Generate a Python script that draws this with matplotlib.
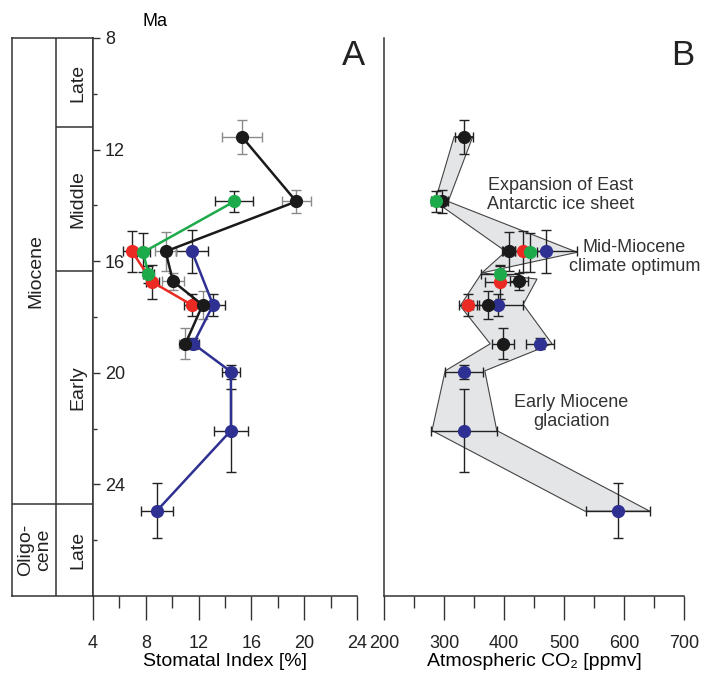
import matplotlib
matplotlib.use("Agg")
import matplotlib.pyplot as plt
import numpy as np

plt.rcParams['font.family'] = ['Liberation Sans', 'DejaVu Sans']

# sample ages (Ma), shared by both panels
blk_age = [11.55, 13.86, 15.65, 16.72, 17.57, 18.96]
grn_age = [13.86, 15.68, 16.47]
red_age = [15.65, 16.75, 17.57]
blu_age = [15.65, 17.57, 18.96, 19.96, 22.07, 24.94]

blk_age_err = [0.6, 0.4, 0.7, 0.3, 0.5, 0.55]
grn_age_err = [0.38, 0.7, 0.3]
red_age_err = [0.72, 0.6, 0.4]
blu_age_err = [0.76, 0.4, 0.2, 0.25, 1.5, 0.98]

# panel A: stomatal index [%]
blk_si = [15.3, 19.4, 9.5, 10.06, 12.3, 11.0]
grn_si = [14.7, 7.8, 8.2]
red_si = [6.95, 8.5, 11.5]
blu_si = [11.5, 13.1, 11.6, 14.45, 14.45, 8.85]

blk_si_err = [1.5, 1.1, 0.8, 0.8, 0.8, 0.5]
grn_si_err = [1.45, 0.5, 0.4]
red_si_err = [0.7, 0.5, 0.6]
blu_si_err = [1.2, 0.9, 0.4, 0.67, 1.26, 1.2]

# panel B: atmospheric CO2 [ppmv]
blk_co2 = [333, 297, 408, 425, 373, 398]
grn_co2 = [287, 443, 393]
red_co2 = [431, 393, 340]
blu_co2 = [470, 390, 460, 333, 333, 590]

blk_co2_err = [15, 10, 10, 15, 15, 18]
grn_co2_err = [8, 12, 32]
red_co2_err = [35, 25, 15]
blu_co2_err = [52, 42, 23, 32, 55, 53]

# envelope around CO2 estimates
env_co2 = [317, 348, 307, 522, 363, 455, 432, 480, 368, 388, 643,
           535, 280, 302, 377, 327, 363, 403, 285]
env_age = [11.53, 11.53, 13.86, 15.68, 16.42, 16.64, 17.55, 18.96, 19.93, 22.07, 24.96,
           24.96, 22.07, 19.93, 18.96, 17.6, 16.42, 15.65, 13.86]

# stratigraphy
stage_bounds = [11.2, 16.36]
epoch_bound = 24.7

BLK, GRN, RED, BLU = '#1a1a1a', '#1daa4b', '#ec2a24', '#2e3192'
SPINE = '#333333'

W, H = 701, 675
fig = plt.figure(figsize=(W / 100, H / 100), dpi=100)
bot, hgt = 1 - 596 / H, 558 / H
axS = fig.add_axes([12 / W, bot, 81 / W, hgt])
axA = fig.add_axes([93 / W, bot, 264 / W, hgt])
axB = fig.add_axes([384 / W, bot, 300 / W, hgt])

# stratigraphic column
axS.set_xlim(0, 1)
axS.set_ylim(28, 8)
axS.set_xticks([])
axS.set_yticks([])
for s in axS.spines.values():
    s.set_linewidth(1.1)
    s.set_color(SPINE)
axS.axvline(0.543, color=SPINE, lw=1.1)
axS.hlines(stage_bounds, 0.543, 1, color=SPINE, lw=1.1)
axS.axhline(epoch_bound, color=SPINE, lw=1.1)
tkw = dict(rotation=90, ha='center', va='center', fontsize=14, color='#222222')
axS.text(0.29, (8 + epoch_bound) / 2, 'Miocene', **tkw)
axS.text(0.28, (epoch_bound + 28) / 2, 'Oligo-\ncene', linespacing=1.1, **tkw)
axS.text(0.81, (8 + stage_bounds[0]) / 2, 'Late', **tkw)
axS.text(0.81, sum(stage_bounds) / 2, 'Middle', **tkw)
axS.text(0.81, (stage_bounds[1] + epoch_bound) / 2, 'Early', **tkw)
axS.text(0.81, (epoch_bound + 28) / 2, 'Late', **tkw)

ekw = dict(elinewidth=1, capsize=3.5, capthick=1, ms=8.5, zorder=3)

# panel A
axA.errorbar(red_si, red_age, xerr=red_si_err, yerr=red_age_err, fmt='o-',
             color=RED, lw=1.8, ecolor='#222222', **ekw)
axA.errorbar(grn_si, grn_age, xerr=grn_si_err, yerr=grn_age_err, fmt='o-',
             color=GRN, lw=1.8, ecolor='#222222', **ekw)
axA.errorbar(blu_si, blu_age, xerr=blu_si_err, yerr=blu_age_err, fmt='o-',
             color=BLU, lw=1.8, ecolor='#222222', **ekw)
axA.errorbar(blk_si, blk_age, xerr=blk_si_err, yerr=blk_age_err, fmt='o-',
             color=BLK, lw=1.8, ecolor='#8a8a8a', **ekw)

axA.set_xlim(4, 24)
axA.set_ylim(28, 8)
axA.set_xticks([4, 8, 12, 16, 20, 24])
axA.set_xticks([6, 10, 14, 18, 22], minor=True)
axA.set_yticks([8, 12, 16, 20, 24])
axA.set_yticks([10, 14, 18, 22, 26], minor=True)
axA.tick_params(axis='y', which='major', direction='in', length=5, width=1,
                pad=-8.6, labelsize=13, colors=SPINE, labelcolor='#222222')
axA.tick_params(axis='y', which='minor', direction='in', length=3, width=1, colors=SPINE)
for lab in axA.get_yticklabels():
    lab.set_ha('left')
axA.set_xlabel('Stomatal Index [%]', fontsize=14, labelpad=1)
axA.text(0.235, 1.03, 'Ma', transform=axA.transAxes, ha='center', va='center', fontsize=13)
axA.text(0.985, 0.968, 'A', transform=axA.transAxes, ha='center', va='center', fontsize=25,
         color='#222222')

# panel B
axB.fill(env_co2, env_age, facecolor='#e4e5e7', edgecolor='#444444', lw=0.8, zorder=1)
pkw = dict(fmt='o', ecolor='#222222', **ekw)
axB.errorbar(blu_co2, blu_age, xerr=blu_co2_err, yerr=blu_age_err, color=BLU, **pkw)
axB.errorbar(blk_co2, blk_age, xerr=blk_co2_err, yerr=blk_age_err, color=BLK, **pkw)
axB.errorbar(red_co2, red_age, xerr=red_co2_err, yerr=red_age_err, color=RED, **pkw)
axB.errorbar(grn_co2, grn_age, xerr=grn_co2_err, yerr=grn_age_err, color=GRN, **pkw)

axB.set_xlim(200, 700)
axB.set_ylim(28, 8)
axB.set_xticks(np.arange(200, 701, 100))
axB.set_xticks(np.arange(250, 700, 100), minor=True)
axB.set_yticks([])
axB.set_xlabel('Atmospheric CO\u2082 [ppmv]', fontsize=14, labelpad=1)
akw = dict(ha='center', va='center', fontsize=13, color='#333333', linespacing=1.15)
axB.text(495, 13.64, 'Expansion of East\nAntarctic ice sheet', **akw)
axB.text(617, 15.86, 'Mid-Miocene\nclimate optimum', **akw)
axB.text(512, 21.4, 'Early Miocene\nglaciation', **akw)
axB.text(0.997, 0.968, 'B', transform=axB.transAxes, ha='center', va='center', fontsize=25,
         color='#222222')

for ax in (axA, axB):
    ax.spines['top'].set_visible(False)
    ax.spines['right'].set_visible(False)
    for s in ('left', 'bottom'):
        ax.spines[s].set_linewidth(1.1)
        ax.spines[s].set_color(SPINE)
    ax.tick_params(axis='x', which='major', direction='out', length=17, width=1,
                   pad=11, labelsize=13, colors=SPINE, labelcolor='#222222')
    ax.tick_params(axis='x', which='minor', direction='out', length=8.6, width=1,
                   colors=SPINE)

fig.savefig('out.png', dpi=100)
